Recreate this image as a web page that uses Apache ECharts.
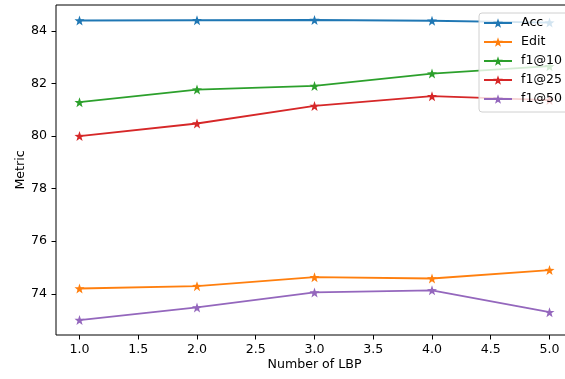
<!DOCTYPE html>
<html>
<head>
<meta charset="utf-8">
<script src="https://cdn.jsdelivr.net/npm/echarts@6/dist/echarts.min.js"></script>
<style>
html,body{margin:0;padding:0;background:#fff;}
#main{width:565px;height:379px;}
</style>
</head>
<body>
<div id="main"></div>
<script>
// number of LBP on x
var xVals = [1, 2, 3, 4, 5];
var accData = [84.40, 84.41, 84.42, 84.39, 84.32];
var editData = [74.20, 74.29, 74.63, 74.58, 74.90];
var f10Data = [81.29, 81.77, 81.91, 82.38, 82.66];
var f25Data = [80.00, 80.48, 81.15, 81.52, 81.37];
var f50Data = [73.00, 73.48, 74.05, 74.13, 73.30];
var xTicks = [1.0, 1.5, 2.0, 2.5, 3.0, 3.5, 4.0, 4.5, 5.0];
var yTicks = [74, 76, 78, 80, 82, 84];

var names = ['Acc', 'Edit', 'f1@10', 'f1@25', 'f1@50'];
var colors = ['#1f77b4', '#ff7f0e', '#2ca02c', '#d62728', '#9467bd'];
var allData = [accData, editData, f10Data, f25Data, f50Data];

var star = 'path://M0,-10 L2.35,-3.24 L9.51,-3.09 L3.8,1.24 L5.88,8.09 L0,4 L-5.88,8.09 L-3.8,1.24 L-9.51,-3.09 L-2.35,-3.24 Z';
var font = 'DejaVu Sans';
var fs = 12.6;

function pairs(ys){
    var out = [];
    for(i=0;i<xVals.length;i++){
        out.push([xVals[i], ys[i]]);
    }
    return out;
}

series = [];
for(var k=0;k<names.length;k++){
    series.push({
        name: names[k],
        type: 'line',
        data: pairs(allData[k]),
        symbol: star,
        symbolSize: 10,
        showSymbol: true,
        animation: false,
        lineStyle: {color: colors[k], width: 1.8},
        itemStyle: {color: colors[k], borderWidth: 0}
    });
}

chart = echarts.init(document.getElementById('main'));
option = {
    animation: false,
    color: colors,
    grid: {
        left: 56, top: 5, width: 517, height: 330,
        containLabel: false,
        outerBoundsMode: 'none',
        show: true, borderColor: '#000', borderWidth: 1
    },
    legend: {
        data: names,
        orient: 'vertical',
        left: 479, top: 13,
        padding: [3, 20, 6, 4],
        itemWidth: 28, itemHeight: 12, itemGap: 5,
        backgroundColor: 'rgba(255,255,255,0.8)',
        borderColor: '#d0d0d0', borderWidth: 1, borderRadius: 3,
        textStyle: {fontFamily: font, fontSize: fs, lineHeight: 14, color: '#000', padding: [0, 0, 0, 4]}
    },
    xAxis: {
        type: 'value',
        min: 0.8, max: 5.2,
        name: 'Number of LBP',
        nameLocation: 'middle',
        nameGap: 23,
        nameMoveOverlap: false,
        nameTextStyle: {fontFamily: font, fontSize: fs, color: '#000'},
        splitLine: {show: false},
        axisLine: {show: false},
        axisTick: {show: true, length: 4.5, customValues: xTicks, lineStyle: {color: '#000', width: 1}},
        axisLabel: {
            customValues: xTicks, margin: 8,
            fontFamily: font, fontSize: fs, color: '#000',
            formatter: function(v){ return v.toFixed(1); }
        }
    },
    yAxis: {
        type: 'value',
        min: 72.43, max: 84.99,
        name: 'Metric',
        nameLocation: 'middle',
        nameGap: 29,
        nameMoveOverlap: false,
        nameTextStyle: {fontFamily: font, fontSize: fs, color: '#000'},
        splitLine: {show: false},
        axisLine: {show: false},
        axisTick: {show: true, length: 4.5, customValues: yTicks, lineStyle: {color: '#000', width: 1}},
        axisLabel: {
            customValues: yTicks, margin: 9,
            fontFamily: font, fontSize: fs, color: '#000'
        }
    },
    series: series
};
chart.setOption(option);
</script>
</body>
</html>
